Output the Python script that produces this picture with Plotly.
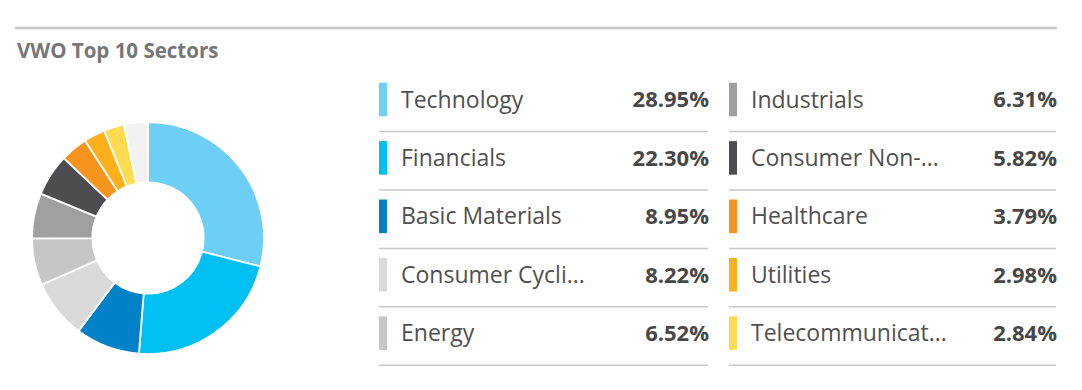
import plotly.graph_objects as go

# ---------------- data ----------------
title_text = "VWO Top 10 Sectors"
sectors = ["Technology", "Financials", "Basic Materials", "Consumer Cyclical", "Energy",
           "Industrials", "Consumer Non-Cyclical", "Healthcare", "Utilities",
           "Telecommunication Services"]
display_labels = ["Technology", "Financials", "Basic Materials", "Consumer Cycli...", "Energy",
                  "Industrials", "Consumer Non-...", "Healthcare", "Utilities",
                  "Telecommunicat..."]
weights = [28.95, 22.30, 8.95, 8.22, 6.52, 6.31, 5.82, 3.79, 2.98, 2.84]
sector_colors = ["#6dcff6", "#00bff3", "#0081c8", "#d9d9d9", "#c6c6c6",
                 "#a0a0a0", "#4d4d4f", "#f7941d", "#fdb01b", "#ffdb4f"]
other_label = "Other"
other_weight = round(100 - sum(weights), 2)
other_color = "#f2f2f2"

W, H = 1082, 390
ROWS = 5
TEXT_DY = 0.04  # small downward nudge of text relative to row centre (row units)

fig = go.Figure()

# ---------------- donut ----------------
cx, cy, r = 148, 238, 116
fig.add_trace(go.Pie(
    labels=sectors + [other_label],
    values=weights + [other_weight],
    marker=dict(colors=sector_colors + [other_color], line=dict(color="white", width=1.8)),
    hole=0.48, sort=False, direction="clockwise", rotation=0,
    textinfo="none", hoverinfo="label+percent", showlegend=False,
    domain=dict(x=[(cx - r) / W, (cx + r) / W], y=[(H - cy - r) / H, (H - cy + r) / H]),
))

# ---------------- legend table ----------------
col_swatch = [383, 733]
col_label = [401, 751]
col_value = [709, 1057]
col_line = [(379, 708), (729, 1056)]

rows = [i % ROWS for i in range(len(weights))]
cols = [i // ROWS for i in range(len(weights))]

fig.add_trace(go.Scatter(
    x=[col_swatch[c] for c in cols], y=rows, mode="markers",
    marker=dict(symbol="line-ns", size=24, line=dict(width=8, color=sector_colors)),
    hoverinfo="skip", showlegend=False, xaxis="x", yaxis="y",
))
fig.add_trace(go.Scatter(
    x=[col_label[c] for c in cols], y=[rr + TEXT_DY for rr in rows], mode="text", text=display_labels,
    textposition="middle right",
    textfont=dict(family="Open Sans", size=23, color="#505050"),
    hoverinfo="skip", showlegend=False,
))
fig.add_trace(go.Scatter(
    x=[col_value[c] for c in cols], y=[rr + TEXT_DY for rr in rows], mode="text",
    text=[f"<b>{v:.2f}%</b>" for v in weights],
    textposition="middle left",
    textfont=dict(family="Open Sans", size=22, color="#474747"),
    hoverinfo="skip", showlegend=False,
))

shapes = []
for c in range(2):
    for rr in range(ROWS):
        shapes.append(dict(type="line", xref="x", yref="y",
                           x0=col_line[c][0], x1=col_line[c][1], y0=rr + 0.55, y1=rr + 0.55,
                           line=dict(color="#c8c8c8", width=1.5)))
# top rule
shapes.append(dict(type="line", xref="paper", yref="paper",
                   x0=15 / W, x1=1057 / W, y0=1 - 28 / H, y1=1 - 28 / H,
                   line=dict(color="#c8c8c8", width=2.6)))

row0_px, pitch = 99.5, 58.4
fig.update_layout(
    width=W, height=H, margin=dict(l=0, r=0, t=0, b=0),
    paper_bgcolor="white", plot_bgcolor="white",
    xaxis=dict(range=[0, W], visible=False, fixedrange=True),
    yaxis=dict(range=[(H - row0_px) / pitch, -row0_px / pitch], visible=False, fixedrange=True),
    shapes=shapes,
    annotations=[dict(text=f"<b>{title_text}</b>", xref="paper", yref="paper",
                      x=15 / W, y=1 - 50 / H, xanchor="left", yanchor="middle", showarrow=False,
                      font=dict(family="Open Sans", size=20.5, color="#767676"))],
)

fig.write_html("out.html", config={"displayModeBar": False},
               post_script="document.body.style.margin='0';document.body.style.overflow='hidden';")
